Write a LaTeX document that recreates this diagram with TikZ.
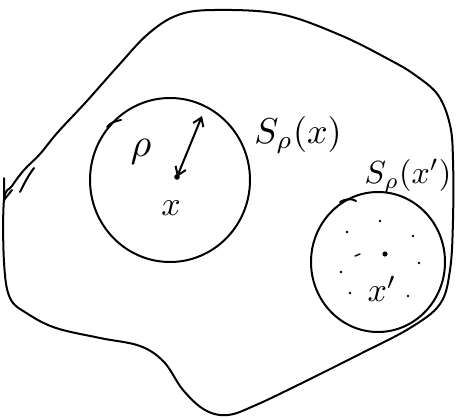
\documentclass[tikz,border=0pt]{standalone}
\usetikzlibrary{arrows.meta}
\begin{document}
\begin{tikzpicture}[x=1pt,y=-1pt,
  pen/.style={line width=2pt,line cap=round,line join=round},
  lbl/.style={inner sep=0pt}]
\useasboundingbox (0,0) rectangle (460,417);
% outer region
\draw[pen] plot[smooth cycle,tension=0.6] coordinates {
 (4,200) (4,262) (10,298) (28,314) (56,328) (100,338) (140,346) (164,362)
 (183,390) (205,410) (228,415) (256,405) (300,384) (360,354) (410,328)
 (440,304) (450,270) (453,220) (453,160) (450,125) (438,95) (415,75)
 (390,60) (340,35) (280,14) (215,10) (178,15) (148,34) (118,66) (86,102)
 (58,132) (40,154) (24,170) (12,186)};
% left border strokes
\draw[pen] (4,178) -- (4,200) -- (12,190);
\draw[pen] (20,192) .. controls (25,182) and (28,176) .. (34,168);
% left ball
\draw[pen] (170,180) ellipse [x radius=80, y radius=82];
\draw[pen] (107,127) .. controls (110,123) and (115,121) .. (121,120);
\fill (177,177) circle (2.8pt) coordinate (c1);
\coordinate (r1) at (202,116);
\draw[pen,{Straight Barb[length=8pt,width=11pt]}-{Straight Barb[length=8pt,width=11pt]}] (c1) -- (r1);
\node[lbl] (rho) at (141,152) {\scalebox{4}{$\rho$}};
\node[lbl] (x) at (171,208) {\scalebox{3.4}{$x$}};
\node[lbl] (S1) at (298,135) {\scalebox{3.6}{$S_\rho(x)$}};
% right ball
\draw[pen] (378,262) ellipse [x radius=67, y radius=70];
\draw[pen] (340,202) .. controls (345,199) and (352,198) .. (356,201);
\fill (385,254) circle (2.6pt) coordinate (c2);
\foreach \p in {(380,221),(347,232),(413,236),(419,263),(341,272),(350,293),(408,296)}
  \fill \p circle (1.3pt);
\draw[pen,line width=1.4pt] (355,256) -- (360,254);
\node[lbl] (xp) at (382,289) {\scalebox{3.4}{$x'$}};
\node[lbl] (S2) at (408,176) {\scalebox{3.2}{$S_\rho(x')$}};
\end{tikzpicture}
\end{document}
